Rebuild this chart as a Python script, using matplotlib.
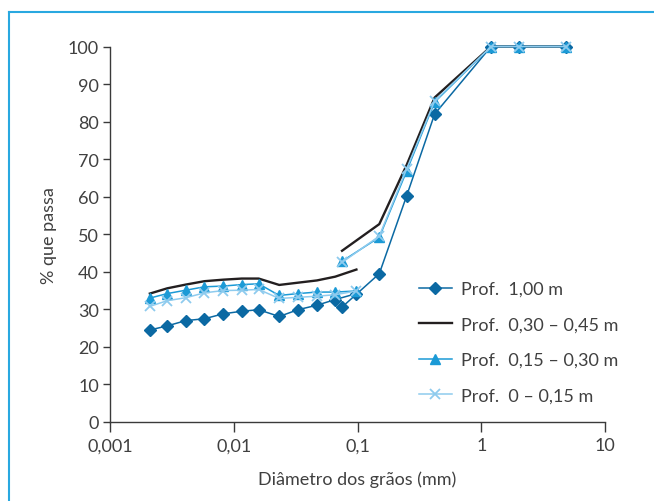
import matplotlib
matplotlib.use("Agg")
import matplotlib.pyplot as plt
from matplotlib import font_manager
from matplotlib.lines import Line2D

# ---------------- data ----------------
x_fine = [0.0021, 0.0029, 0.0041, 0.0058, 0.0082, 0.0116, 0.0159, 0.0233, 0.033, 0.047, 0.066, 0.098]
x_sieve = [0.075, 0.15, 0.25, 0.42, 1.2, 2.0, 4.8]

d100_fine = [24.5, 25.6, 27.0, 27.5, 28.8, 29.5, 29.9, 28.1, 29.9, 31.1, 32.6, 34.2]
d100_sieve = [30.6, 39.5, 60.3, 82.0, 100, 100, 100]

d30_fine = [34.2, 35.6, 36.6, 37.5, 37.9, 38.2, 38.2, 36.5, 37.1, 37.7, 38.7, 40.6]
d30_sieve = [45.6, 52.7, 68.5, 86.4, 100, 100, 100]

d15_fine = [33.0, 34.2, 35.1, 36.0, 36.2, 36.6, 36.8, 33.7, 34.2, 34.6, 34.6, 34.9]
d15_sieve = [42.8, 49.2, 66.9, 85.2, 100, 100, 100]

d0_fine = [30.8, 32.3, 33.1, 34.4, 35.0, 35.1, 35.3, 32.9, 33.2, 33.5, 33.9, 34.9]
d0_sieve = [42.5, 49.5, 67.5, 85.5, 100, 100, 100]

labels = ["Prof.  1,00 m", "Prof.  0,30 – 0,45 m", "Prof.  0,15 – 0,30 m", "Prof.  0 – 0,15 m"]
xticks = [0.001, 0.01, 0.1, 1, 10]
xticklabels = ["0,001", "0,01", "0,1", "1", "10"]
yticks = list(range(0, 101, 10))

# ---------------- style ----------------
names = {f.name for f in font_manager.fontManager.ttflist}
fam = "Lato" if "Lato" in names else "DejaVu Sans"
plt.rcParams['font.family'] = [fam, 'DejaVu Sans']
plt.rcParams['font.weight'] = 'normal'
txt = "#404040"

c_dark = "#0b69a3"
c_black = "#231f20"
c_mid = "#1b9ad6"
c_light = "#8ecbee"

fig = plt.figure(figsize=(6.54, 5.02), dpi=100)
ax = fig.add_axes([110/654, 79/502, (605-110)/654, (423-47.5)/502])

# frame lines
frame_c = "#29a8e0"
fig.add_artist(Line2D([9/654, 9/654], [0, 1-13/502], transform=fig.transFigure, color=frame_c, lw=1.5))
fig.add_artist(Line2D([9/654, 1], [1-13/502, 1-13/502], transform=fig.transFigure, color=frame_c, lw=1.5))

lw = 1.1
# black (no markers)
ax.plot(x_fine, d30_fine, color=c_black, lw=1.7, zorder=2, clip_on=False)
ax.plot(x_sieve, d30_sieve, color=c_black, lw=1.7, zorder=2, clip_on=False)
# dark diamonds
ax.plot(x_fine, d100_fine, color=c_dark, lw=lw, marker='D', ms=6, zorder=3, clip_on=False)
ax.plot(x_sieve, d100_sieve, color=c_dark, lw=lw, marker='D', ms=6, zorder=3, clip_on=False)
# triangles
ax.plot(x_fine, d15_fine, color=c_mid, lw=lw, marker='^', ms=7, zorder=4, clip_on=False)
ax.plot(x_sieve, d15_sieve, color=c_mid, lw=lw, marker='^', ms=7, zorder=4, clip_on=False)
# x
ax.plot(x_fine, d0_fine, color=c_light, lw=lw, marker='x', ms=6.5, mew=1.3, zorder=5, clip_on=False)
ax.plot(x_sieve, d0_sieve, color=c_light, lw=lw, marker='x', ms=6.5, mew=1.3, zorder=5, clip_on=False)

ax.set_xscale('log')
ax.set_xlim(0.001, 10)
ax.set_ylim(0, 100)
ax.set_xticks(xticks)
ax.set_xticklabels(xticklabels)
ax.minorticks_off()
ax.set_yticks(yticks)
ax.set_yticklabels([str(v) for v in yticks])

for s in ['top', 'right']:
    ax.spines[s].set_visible(False)
for s in ['left', 'bottom']:
    ax.spines[s].set_color("#3a3a3a")
    ax.spines[s].set_linewidth(1.0)
ax.tick_params(axis='both', colors="#3a3a3a", labelcolor=txt, labelsize=13, width=1.0)
ax.tick_params(axis='y', length=5, pad=3)
ax.tick_params(axis='x', length=7, pad=4)

ax.set_xlabel("Diâmetro dos grãos (mm)", fontsize=13, color=txt, labelpad=12)
ax.set_ylabel("% que passa", fontsize=13, color=txt, labelpad=8)

handles = [
    Line2D([], [], color=c_dark, lw=lw, marker='D', ms=6),
    Line2D([], [], color=c_black, lw=1.7),
    Line2D([], [], color=c_mid, lw=lw, marker='^', ms=7),
    Line2D([], [], color=c_light, lw=lw, marker='x', ms=6.5, mew=1.3),
]
leg = ax.legend(handles, labels, loc='upper left', bbox_to_anchor=(0.61, 0.395),
                frameon=False, fontsize=13, handlelength=1.8, handletextpad=0.5,
                labelspacing=1.08, borderaxespad=0)
for t in leg.get_texts():
    t.set_color(txt)

fig.savefig("out.png", dpi=100)
